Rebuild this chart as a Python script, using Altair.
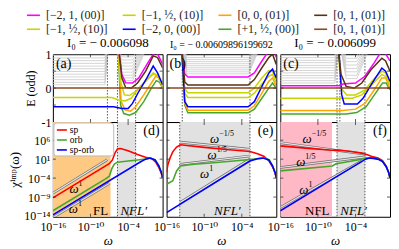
import altair as alt
import pandas as pd

FONT = "Liberation Serif, DejaVu Serif, serif"
XDOM = [1e-16, 10 ** 1.5]
EDOM = [-1, 1]
CDOM = [10 ** -14.2, 10 ** 10.8]
W, H_TOP, H_BOT = 110, 68, 95

# ---------------- legend of level families ----------------
leg_keys = ["mag", "yel1", "ora", "dbr", "yel2", "blu", "grn", "brn"]
leg_labels = ["[−2, 1, (00)]", "[−1, ½, (10)]", "[0, 0, (01)]", "[0, 1, (01)]",
              "[−1, ½, (10)]", "[−2, 0, (00)]", "[+1, ½, (00)]", "[0, 1, (01)]"]
COLORS = {"mag": "#ff00ff", "yel1": "#c8d400", "ora": "#ffa500", "dbr": "#5a3212",
          "yel2": "#c8d400", "blu": "#0000ff", "grn": "#46a82a", "brn": "#8b4a1e"}
titles = ["I₀ = − 0.006098", "I₀ = − 0.00609896199692", "I₀ = − 0.006099"]

# tick positions
x_ticks = [1e-10, 1e-4]
e_ticks = [-0.5, 0.0, 0.5]
chi_ticks = [1e6, 1e1, 1e-4, 1e-9]

# ---------------- top panels: energy levels E vs log10(omega) ----------------
a_lines = {
    "grn": ([-5.6, -5.2, -4.7, -3.8, -2.8, -1.5, -0.3, 0.5, 1.0, 1.5],
            [1.2, -0.5, -0.75, -0.8, -0.72, -0.4, 0.0, 0.22, 0.18, 0.0]),
    "ora": ([-5.6, -5.1, -4.5, -3.6, -2.8, -1.5, -0.3, 0.4, 0.9, 1.5],
            [1.2, -0.4, -0.64, -0.68, -0.55, -0.2, 0.15, 0.35, 0.3, 0.0]),
    "yel2": ([-5.7, -5.2, -4.6, -3.8, -2.8, -1.5, 0.0, 0.8, 1.5],
             [1.2, 0.2, -0.2, -0.22, -0.1, 0.15, 0.42, 0.35, 0.05]),
    "yel1": ([-16, -6.6, -5.5, -4.5, -3.5, -2.3, -1.0, 0.0, 0.7, 1.5],
             [-0.28, -0.28, -0.35, -0.38, -0.3, 0.0, 0.25, 0.45, 0.38, 0.1]),
    "blu": ([-16, -6.3, -5.0, -4.0, -3.3, -2.3, -1.0, 0.0, 0.7, 1.5],
            [-0.55, -0.55, -0.6, -0.6, -0.45, -0.1, 0.3, 0.65, 0.45, 0.1]),
    "mag": ([-5.6, -5.0, -4.4, -3.3, -2.3, -1.0, 0.0, 0.6, 1.0, 1.5],
            [1.2, 0.4, 0.16, 0.15, 0.3, 0.7, 1.0, 1.05, 0.9, 0.7]),
    "dbr": ([-5.5, -5.0, -4.4, -3.5, -2.5, -1.2, 0.0, 0.7, 1.5],
            [1.2, 0.3, 0.02, 0.0, 0.15, 0.5, 0.95, 0.9, 0.6]),
    "brn": ([-16, 1.5], [0.0, 0.0]),
}
a_gray_flat = [0.1, 0.17, 0.25, 0.33, 0.41, 0.49, 0.57, 0.65, 0.73, 0.81, 0.89, 0.97]
a_gray_flat_x = [-16, -7.7, -7.1]
a_gray_u = [0.22, 0.3, 0.38, 0.47, 0.56, 0.65, 0.74, 0.83, 0.92]
a_gray_u_x = [-5.9, -5.0, -3.3, -0.8]
a_dots = [-7.3, -5.7, -2.8]

bx = [-13.6, -13.1, -12.6, -3.0, -2.0, -0.8, 0.3, 0.9, 1.5]
b_lines = {
    "grn": (bx, [1.2, -0.5, -0.73, -0.73, -0.62, -0.3, 0.0, 0.15, 0.0]),
    "ora": (bx, [1.2, -0.45, -0.65, -0.65, -0.52, -0.15, 0.2, 0.3, 0.05]),
    "yel2": (bx, [1.2, -0.15, -0.28, -0.28, -0.15, 0.12, 0.35, 0.4, 0.15]),
    "yel1": (bx, [1.2, -0.02, -0.14, -0.14, 0.0, 0.3, 0.52, 0.5, 0.25]),
    "blu": (bx, [1.2, -0.4, -0.55, -0.55, -0.4, 0.05, 0.45, 0.56, 0.3]),
    "mag": (bx, [1.2, 0.42, 0.33, 0.33, 0.45, 0.8, 1.1, 1.2, 0.9]),
    "dbr": (bx, [1.2, 0.18, 0.09, 0.09, 0.25, 0.6, 0.9, 1.0, 0.7]),
    "brn": ([-16, 1.5], [0.0, 0.0]),
}
b_gray_flat = []
b_gray_flat_x = [-16, -16, -16]
b_gray_u = [0.42, 0.48, 0.54, 0.6, 0.66, 0.72, 0.78, 0.84, 0.9, 0.96]
b_gray_u_x = [-13.5, -12.8, -2.9, -0.9]
b_dots = [-13.5, -2.7]

c_lines = {
    "grn": ([-16, -5.5, -3.8, -2.3, -0.8, 0.3, 0.9, 1.5],
            [-0.76, -0.76, -0.72, -0.55, -0.15, 0.15, 0.15, -0.05]),
    "ora": ([-16, -6.0, -4.0, -2.5, -1.0, 0.2, 0.8, 1.5],
            [-0.66, -0.66, -0.62, -0.45, -0.05, 0.3, 0.3, 0.0]),
    "yel2": ([-16, -6.3, -4.5, -3.0, -1.5, 0.2, 0.8, 1.5],
             [-0.3, -0.3, -0.3, -0.2, 0.08, 0.4, 0.35, 0.1]),
    "yel1": ([-6.8, -6.3, -5.4, -4.0, -2.5, -1.0, 0.2, 0.8, 1.5],
             [1.2, 0.0, -0.2, -0.2, -0.05, 0.28, 0.5, 0.45, 0.15]),
    "blu": ([-6.7, -6.2, -5.8, -3.7, -2.8, -1.5, 0.2, 0.8, 1.5],
            [1.2, -0.2, -0.47, -0.47, -0.3, 0.1, 0.59, 0.5, 0.2]),
    "mag": ([-16, -6.5, -6.0, -4.0, -2.5, -1.0, 0.0, 0.5, 1.0, 1.5],
            [0.07, 0.07, 0.12, 0.15, 0.35, 0.75, 1.05, 1.1, 0.95, 0.8]),
    "dbr": ([-6.8, -6.3, -5.5, -4.2, -3.0, -1.5, 0.2, 0.8, 1.5],
            [1.2, 0.4, 0.05, 0.0, 0.15, 0.55, 0.88, 0.8, 0.5]),
    "brn": ([-16, 1.5], [0.0, 0.0]),
}
c_gray_flat = [0.15, 0.22, 0.3, 0.37, 0.45, 0.52, 0.6, 0.67, 0.75, 0.82, 0.9, 0.97]
c_gray_flat_x = [-16, -7.3, -6.7]
c_gray_u = [0.28, 0.38, 0.48, 0.58, 0.68, 0.78, 0.88, 0.96]
c_gray_u_x = [-6.5, -5.5, -3.8, -1.5]
c_dots = [-6.95, -6.5, -2.5]

# ---------------- bottom panels: log10 chi vs log10 omega ----------------
d_series = {
    "red": ([-16, -7.0, -6.5, -6.1, -5.7, -5.2, -4.0, -2.5, -1.0, -0.2, 0.4, 0.9, 1.3, 1.5],
            [-9.2, -0.2, 0.8, 2.6, 3.7, 3.8, 3.2, 2.2, 1.4, 1.1, 0.2, -1.2, -2.8, -4.0]),
    "green": ([-16, -7.6, -7.0, -6.6, -6.2, -5.7, -4.0, -2.5, -1.0, -0.4, 0.3, 0.9, 1.3, 1.5],
              [-12.6, -4.2, -3.5, -1.5, -0.3, 0.2, 0.5, 0.8, 1.1, 1.3, 0.8, -0.8, -2.5, -3.9]),
    "blue": ([-16, -2.0, -1.2, -0.5, 0.3, 0.9, 1.3, 1.5],
             [-13.7, 0.3, 1.0, 1.3, 0.8, -0.8, -2.5, -3.9]),
}
e_series = {
    "red": ([-16, -15.8, -15.4, -15.0, -14.4, -13.8, -10, -6, -2.7, -1.5, -0.5, 0.3, 0.9, 1.3, 1.5],
            [-2.5, -0.5, 1.5, 3.0, 4.2, 4.8, 4.1, 3.5, 3.0, 2.4, 1.8, 0.6, -1.0, -2.6, -3.9]),
    "green": ([-16, -15.0, -14.4, -13.8, -12, -8, -4, -2.7, -1, -0.3, 0.4, 0.9, 1.3, 1.5],
              [-5.6, -4.7, -2.1, -0.8, -0.4, 0.1, 0.7, 0.9, 1.2, 1.3, 0.8, -0.8, -2.5, -3.9]),
    "blue": ([-16, -2.7, -1.5, -0.6, 0.3, 0.9, 1.3, 1.5],
             [-13.1, 0.5, 1.1, 1.3, 0.8, -0.8, -2.5, -3.9]),
}
f_series = {
    "red": ([-16, -12, -7.7, -7.3, -5, -3, -2, -1.2, -0.4, 0.3, 0.9, 1.3, 1.5],
            [4.5, 3.9, 3.35, 3.45, 3.1, 2.6, 2.1, 1.6, 1.3, 0.6, -0.9, -2.6, -3.9]),
    "green": ([-16, -7.7, -7.1, -5, -3, -2.3, -1.2, -0.3, 0.3, 0.9, 1.3, 1.5],
              [-2.1, -0.8, -0.2, 0.4, 1.0, 1.35, 1.2, 1.0, 0.5, -1.0, -2.6, -3.9]),
    "blue": ([-16, -2.4, -1.8, -1.0, -0.3, 0.3, 0.9, 1.3, 1.5],
             [-12.6, 1.0, 1.3, 1.2, 0.9, 0.4, -1.0, -2.6, -3.9]),
}
SERIES_COLORS = {"red": "#ff0000", "green": "#46a82a", "blue": "#0000ff"}
legend2_labels = ["sp", "orb", "sp-orb"]

# shaded regions (log10 omega start, end, colour)
d_regions = [(-16, -6.8, "#fdc983"), (-5.7, -2.8, "#e1e1e1")]
e_regions = [(-13.9, -2.7, "#e1e1e1")]
f_regions = [(-16, -7.75, "#ffb9c6"), (-6.95, -2.5, "#e1e1e1")]
d_dots = [-5.7, -2.8]
e_dots = [-13.9, -2.7]
f_dots = [-6.95, -2.5]

# power-law guide lines: (id, log10 omega list, log10 chi list)
d_refs = [("u", [-16, -7.3], [-8.0, 0.9]), ("l", [-16, -7.0], [-14.4, -5.4])]
d_reflab = [(-11.9, -6.8, "1"), (-12.0, -12.2, "1")]
e_refs = [("a", [-13.8, -2.7], [5.5, 3.6]), ("b", [-13.8, -2.7], [-0.35, 1.85]),
          ("c", [-13.8, -2.7], [-10.4, 1.0])]
e_reflab = [(-7.6, 6.4, "−1/5"), (-8.0, 2.0, "1/5"), (-9.2, -3.0, "1")]
f_refs = [("a", [-16, -2.4], [5.35, 2.3]), ("b", [-16, -2.4], [-1.2, 1.6]),
          ("c", [-16, -3.0], [-11.75, 0.54])]
f_reflab = [(-11.0, 6.3, "−1/5"), (-12.0, 0.2, "1/5"), (-11.5, -7.2, "1")]

d_text = [(-8.4, -12.6, "FL", "normal"), (-3.1, -12.6, "NFL′", "italic")]
e_text = [(-6.3, -12.6, "NFL′", "italic")]
f_text = [(-10.1, -12.6, "NFL", "normal"), (-4.3, -12.6, "NFL′", "italic")]

XLAB = ("datum.value < 1e-13 ? '10⁻¹⁶' : datum.value < 1e-7 ? '10⁻¹⁰' : '10⁻⁴'")
YLAB = ("datum.value > 1e4 ? '10⁶' : datum.value > 1e-1 ? '10¹' : "
        "datum.value > 1e-6 ? '10⁻⁴' : datum.value > 1e-11 ? '10⁻⁹' : '10⁻¹⁴'")


def lines_df(lines, colors, yname):
    rows = []
    for k, (xs, ys) in lines.items():
        for i, (x, y) in enumerate(zip(xs, ys)):
            val = 10 ** y if yname == "chi" else y
            rows.append({"id": k, "w": 10 ** x, yname: val, "c": colors[k], "i": i})
    return pd.DataFrame(rows)


def gray_df(flat, flat_x, ulev, u_x):
    rows = []
    for j, L in enumerate(flat):
        for i, (x, y) in enumerate([(flat_x[0], L), (flat_x[1], L), (flat_x[2], 1.3)]):
            rows.append({"id": f"f{j}", "w": 10 ** x, "E": y, "i": i})
    for j, L in enumerate(ulev):
        rise = u_x[3] - 1.2 * (L - ulev[0])
        pts = [(u_x[0], 1.3), (u_x[1], L), (u_x[2], L), (rise, 1.3)]
        for i, (x, y) in enumerate(pts):
            rows.append({"id": f"u{j}", "w": 10 ** x, "E": y, "i": i})
    return pd.DataFrame(rows)


def xenc(axis, field="w"):
    return alt.X(f"{field}:Q", scale=alt.Scale(type="log", domain=XDOM, nice=False), axis=axis)


def text_layer(txt, x, y, align="left", baseline="top", size=14):
    return alt.Chart(pd.DataFrame({"t": [txt]})).mark_text(
        font=FONT, fontSize=size, align=align, baseline=baseline, color="black"
    ).encode(x=alt.value(x), y=alt.value(y), text="t:N")


def tick_layers(xax, yenc_fn, yfield, yvals, h):
    xt = pd.DataFrame({"w": x_ticks})
    yt = pd.DataFrame({yfield: yvals})
    sty = dict(color="#333333", strokeWidth=0.8)
    return [
        alt.Chart(xt).mark_rule(**sty).encode(x=xenc(xax), y=alt.value(h), y2=alt.value(h - 3)),
        alt.Chart(xt).mark_rule(**sty).encode(x=xenc(xax), y=alt.value(0), y2=alt.value(3)),
        alt.Chart(yt).mark_rule(**sty).encode(y=yenc_fn, x=alt.value(0), x2=alt.value(3)),
        alt.Chart(yt).mark_rule(**sty).encode(y=yenc_fn, x=alt.value(W - 3), x2=alt.value(W)),
    ]


def top_panel(lines, gdf, dots, letter, title, tsize, show_y, extra=None):
    if show_y:
        yax = alt.Axis(values=[-1, 0, 1],
                       labelExpr="datum.value < -0.5 ? '-1' : datum.value > 0.5 ? '1' : '0'",
                       ticks=False, domain=False, grid=False, labelFont=FONT, labelFontSize=12,
                       labelPadding=2, minExtent=11, maxExtent=11, labelColor="black",
                       labelFlush=False, labelOverlap=False,
                       title="E (odd)", titleFont=FONT, titleFontSize=12,
                       titleFontWeight="normal", titlePadding=4, titleColor="black")
    else:
        yax = None
    yenc = alt.Y("E:Q", scale=alt.Scale(domain=EDOM, nice=False), axis=yax)
    ldf = lines_df(lines, COLORS, "E")
    gray = alt.Chart(gdf).mark_line(clip=True, color="#c9c9c9", strokeWidth=0.8).encode(
        x=xenc(None), y=yenc, detail="id:N", order="i:Q")
    col = alt.Chart(ldf).mark_line(clip=True, strokeWidth=1.5).encode(
        x=xenc(None), y=yenc, detail="id:N", order="i:Q",
        color=alt.Color("c:N", scale=None))
    ddf = pd.DataFrame({"w": [10 ** v for v in dots]})
    dl = alt.Chart(ddf).mark_rule(strokeDash=[1.5, 1.5], color="#444", strokeWidth=0.9).encode(
        x=xenc(None))
    layers = [gray, dl, col] + tick_layers(None, yenc, "E", e_ticks, H_TOP) + [
        text_layer(letter, 3, 3),
        text_layer(title, W / 2, -4, align="center", baseline="bottom", size=tsize)]
    if extra:
        layers += extra
    return alt.layer(*layers).properties(width=W, height=H_TOP)


def bottom_panel(series, regions, dots, refs, reflab, texts, letter, show_y, extra=None):
    xax = alt.Axis(values=[1e-16, 1e-10, 1e-4], labelExpr=XLAB, ticks=False, domain=False,
                   grid=False, labelFont=FONT, labelFontSize=12, labelPadding=5,
                   labelFlush=False, labelOverlap=False, minExtent=14, maxExtent=14,
                   labelColor="black", title="ω", titleFont=FONT, titleFontSize=13,
                   titleFontWeight="normal", titleFontStyle="italic", titlePadding=4,
                   titleColor="black")
    if show_y:
        yax = alt.Axis(values=[1e6, 1e1, 1e-4, 1e-9, 1e-14], labelExpr=YLAB, ticks=False,
                       domain=False, grid=False, labelFont=FONT, labelFontSize=12,
                       labelPadding=3, minExtent=28, maxExtent=28, labelOverlap=False,
                       labelFlush=False, labelColor="black",
                       title="χⁱᵐᵖ(ω)", titleFont=FONT, titleFontSize=13,
                       titleFontWeight="normal", titlePadding=3, titleColor="black")
    else:
        yax = None
    ysc = alt.Scale(type="log", domain=CDOM, nice=False)
    yenc = alt.Y("chi:Q", scale=ysc, axis=yax)

    rdf = pd.DataFrame({"w": [10 ** r[0] for r in regions], "w2": [10 ** r[1] for r in regions],
                        "c": [r[2] for r in regions]})
    reg = alt.Chart(rdf).mark_rect(clip=True).encode(
        x=xenc(xax), x2="w2:Q", y=alt.value(0), y2=alt.value(H_BOT),
        color=alt.Color("c:N", scale=None))
    ddf = pd.DataFrame({"w": [10 ** v for v in dots]})
    dl = alt.Chart(ddf).mark_rule(strokeDash=[1.5, 1.5], color="#444", strokeWidth=0.9).encode(
        x=xenc(xax))
    rows = []
    for k, xs, ys in refs:
        for i, (x, y) in enumerate(zip(xs, ys)):
            rows.append({"id": k, "w": 10 ** x, "chi": 10 ** y, "i": i})
    refdf = pd.DataFrame(rows)
    ref_o = alt.Chart(refdf).mark_line(clip=True, color="#6e6e6e", strokeWidth=2.6).encode(
        x=xenc(xax), y=yenc, detail="id:N", order="i:Q")
    ref_i = alt.Chart(refdf).mark_line(clip=True, color="#e4e4e4", strokeWidth=1.2).encode(
        x=xenc(xax), y=yenc, detail="id:N", order="i:Q")
    ldf = pd.DataFrame({"w": [10 ** r[0] for r in reflab], "chi": [10 ** r[1] for r in reflab],
                        "s": [r[2] for r in reflab]})
    lab_b = alt.Chart(ldf).mark_text(font=FONT, fontSize=13, fontStyle="italic", color="black",
                                     align="right", baseline="middle").encode(
        x=xenc(xax), y=yenc, text=alt.value("ω"))
    lab_s = alt.Chart(ldf).mark_text(font=FONT, fontSize=8, color="black", align="left",
                                     baseline="middle", dx=0, dy=-5).encode(
        x=xenc(xax), y=yenc, text="s:N")
    sdf = lines_df(series, SERIES_COLORS, "chi")
    sl = alt.Chart(sdf).mark_line(clip=True, strokeWidth=1.6).encode(
        x=xenc(xax), y=yenc, detail="id:N", order="i:Q", color=alt.Color("c:N", scale=None))
    layers = [reg, dl, ref_o, ref_i, lab_b, lab_s, sl]
    layers += tick_layers(xax, yenc, "chi", chi_ticks, H_BOT)
    for style in ["normal", "italic"]:
        tdf = pd.DataFrame({"w": [10 ** t[0] for t in texts if t[3] == style],
                            "chi": [10 ** t[1] for t in texts if t[3] == style],
                            "t": [t[2] for t in texts if t[3] == style]})
        if len(tdf):
            layers.append(alt.Chart(tdf).mark_text(font=FONT, fontSize=13, fontStyle=style,
                                                   color="black").encode(
                x=xenc(xax), y=yenc, text="t:N"))
    layers.append(text_layer(letter, W - 3, 2, align="right"))
    if extra:
        layers += extra
    return alt.layer(*layers).properties(width=W, height=H_BOT)


# legend layers inside panel (a) (pixel positions relative to panel (a))
lg = pd.DataFrame({
    "label": leg_labels,
    "c": [COLORS[k] for k in leg_keys],
    "col": [0, 1, 2, 3, 0, 1, 2, 3],
    "row": [0, 0, 0, 0, 1, 1, 1, 1],
})
lg["lx"] = -26 + 96 * lg["col"]
lg["lx2"] = lg["lx"] + 13
lg["tx"] = lg["lx"] + 19
lg["ly"] = -39 + 14 * lg["row"]
leg_rule = alt.Chart(lg).mark_rule(strokeWidth=1.6).encode(
    x=alt.X("lx:Q", scale=None), x2="lx2:Q", y=alt.Y("ly:Q", scale=None),
    color=alt.Color("c:N", scale=None))
leg_text = alt.Chart(lg).mark_text(font=FONT, fontSize=12, align="left", baseline="middle",
                                   color="#222").encode(
    x=alt.X("tx:Q", scale=None), y=alt.Y("ly:Q", scale=None), text="label:N")

# legend box inside panel (d)
l2 = pd.DataFrame({"label": legend2_labels, "c": [SERIES_COLORS[k] for k in ["red", "green", "blue"]],
                   "y": [8, 18, 28]})
l2["x"] = 4
l2["x2"] = 14
l2["tx"] = 17
box = alt.Chart(pd.DataFrame({"a": [1]})).mark_rect(
    fill="white", stroke="#bbbbbb", strokeWidth=1, cornerRadius=3).encode(
    x=alt.value(1), x2=alt.value(61), y=alt.value(1), y2=alt.value(34))
l2_rule = alt.Chart(l2).mark_rule(strokeWidth=1.6).encode(
    x=alt.X("x:Q", scale=None), x2="x2:Q", y=alt.Y("y:Q", scale=None),
    color=alt.Color("c:N", scale=None))
l2_text = alt.Chart(l2).mark_text(font=FONT, fontSize=9.5, align="left", baseline="middle",
                                  color="black").encode(
    x=alt.X("tx:Q", scale=None), y=alt.Y("y:Q", scale=None), text="label:N")

pa = top_panel(a_lines, gray_df(a_gray_flat, a_gray_flat_x, a_gray_u, a_gray_u_x), a_dots,
               "(a)", titles[0], 13, True, extra=[leg_rule, leg_text])
pb = top_panel(b_lines, gray_df(b_gray_flat, b_gray_flat_x, b_gray_u, b_gray_u_x), b_dots,
               "(b)", titles[1], 10, False)
pc = top_panel(c_lines, gray_df(c_gray_flat, c_gray_flat_x, c_gray_u, c_gray_u_x), c_dots,
               "(c)", titles[2], 13, False)
pd_ = bottom_panel(d_series, d_regions, d_dots, d_refs, d_reflab, d_text, "(d)", True,
                   extra=[box, l2_rule, l2_text])
pe = bottom_panel(e_series, e_regions, e_dots, e_refs, e_reflab, e_text, "(e)", False)
pf = bottom_panel(f_series, f_regions, f_dots, f_refs, f_reflab, f_text, "(f)", False)

chart = alt.concat(pa, pb, pc, pd_, pe, pf, columns=3, spacing={"row": 0, "column": 4},
                   bounds="flush").properties(
    padding={"left": 0, "top": 0, "right": 0, "bottom": 0}, background="white"
).configure_view(stroke="black", strokeWidth=1).resolve_scale(y="independent", x="independent")

chart.save("out.html", embed_options={"renderer": "svg", "actions": False})
